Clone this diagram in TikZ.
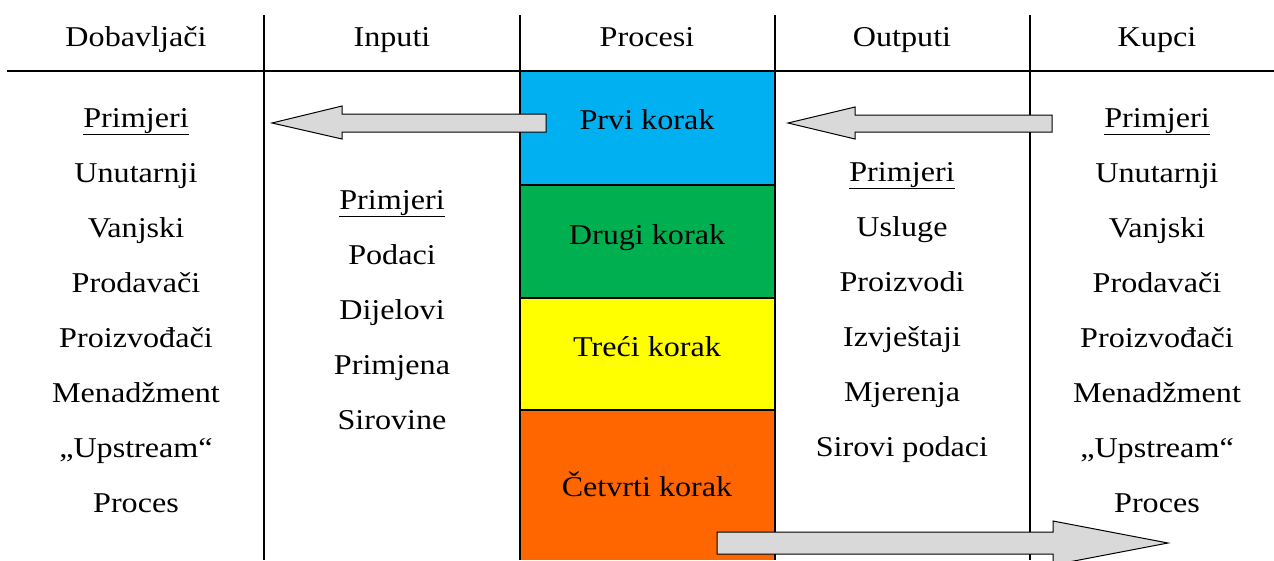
\documentclass[tikz,border=0pt]{standalone}
\usepackage{fontspec}
\setmainfont[FakeStretch=1.12]{Liberation Serif}
\definecolor{cblue}{HTML}{00B0F0}
\definecolor{cgreen}{HTML}{00B050}
\definecolor{cyellow}{HTML}{FFFF00}
\definecolor{corange}{HTML}{FF6600}
\definecolor{cgray}{HTML}{D9D9D9}
\begin{document}
\begin{tikzpicture}[x=1pt,y=-1pt,
  txt/.style={font=\fontsize{28.7}{33}\selectfont, inner sep=0pt, anchor=base},
  rule/.style={line width=1.6pt},
  stepbox/.style={draw=black, line width=1.5pt},
  blockarrow/.style={fill=cgray, draw=black, line width=1pt, line join=miter}]
\useasboundingbox (0,0) rectangle (1274,560);
% process boxes
\fill[cblue] (520,71) rectangle (775,185);
\fill[cgreen] (520,185) rectangle (775,298);
\fill[cyellow] (520,298) rectangle (775,410);
\fill[corange] (520,410) rectangle (775,560);
\draw[stepbox] (520,185) -- (775,185) (520,298) -- (775,298) (520,410) -- (775,410);
% rules
\draw[rule] (7,71) -- (1274,71);
\draw[rule] (264,15) -- (264,560);
\draw[rule] (520,15) -- (520,560);
\draw[rule] (775,15) -- (775,560);
\draw[rule] (1030,15) -- (1030,560);
% headers
\node[txt] (h1) at (136,46) {Dobavljači};
\node[txt] (h2) at (392,46) {Inputi};
\node[txt] (h3) at (647,46) {Procesi};
\node[txt] (h4) at (902,46) {Outputi};
\node[txt] (h5) at (1157,46) {Kupci};
% process labels
\node[txt] (p1) at (647,129) {Prvi korak};
\node[txt] (p2) at (647,244) {Drugi korak};
\node[txt] (p3) at (647,356) {Treći korak};
\node[txt] (p4) at (647,496) {Četvrti korak};
% column 1
\foreach \t [count=\i] in {\underline{Primjeri},Unutarnji,Vanjski,Prodavači,Proizvođači,Menadžment,„Upstream“,Proces}
  \node[txt] (a\i) at (136,{127+55*(\i-1)}) {\t};
% column 5
\foreach \t [count=\i] in {\underline{Primjeri},Unutarnji,Vanjski,Prodavači,Proizvođači,Menadžment,„Upstream“,Proces}
  \node[txt] (e\i) at (1157,{127+55*(\i-1)}) {\t};
% column 2
\foreach \t [count=\i] in {\underline{Primjeri},Podaci,Dijelovi,Primjena,Sirovine}
  \node[txt] (b\i) at (392,{209+55*(\i-1)}) {\t};
% column 4
\foreach \t [count=\i] in {\underline{Primjeri},Usluge,Proizvodi,Izvještaji,Mjerenja,Sirovi podaci}
  \node[txt] (d\i) at (902,{181+55*(\i-1)}) {\t};
% block arrows
\draw[blockarrow] (546,114) -- (342,114) -- (342,106) -- (272,123) -- (342,139) -- (342,132) -- (546,132) -- cycle;
\draw[blockarrow] (1052,115) -- (855,115) -- (855,107) -- (788,123) -- (855,139) -- (855,132) -- (1052,132) -- cycle;
\draw[blockarrow] (717,532) -- (1053,532) -- (1053,521) -- (1168,543) -- (1053,565) -- (1053,554) -- (717,554) -- cycle;
\end{tikzpicture}
\end{document}
